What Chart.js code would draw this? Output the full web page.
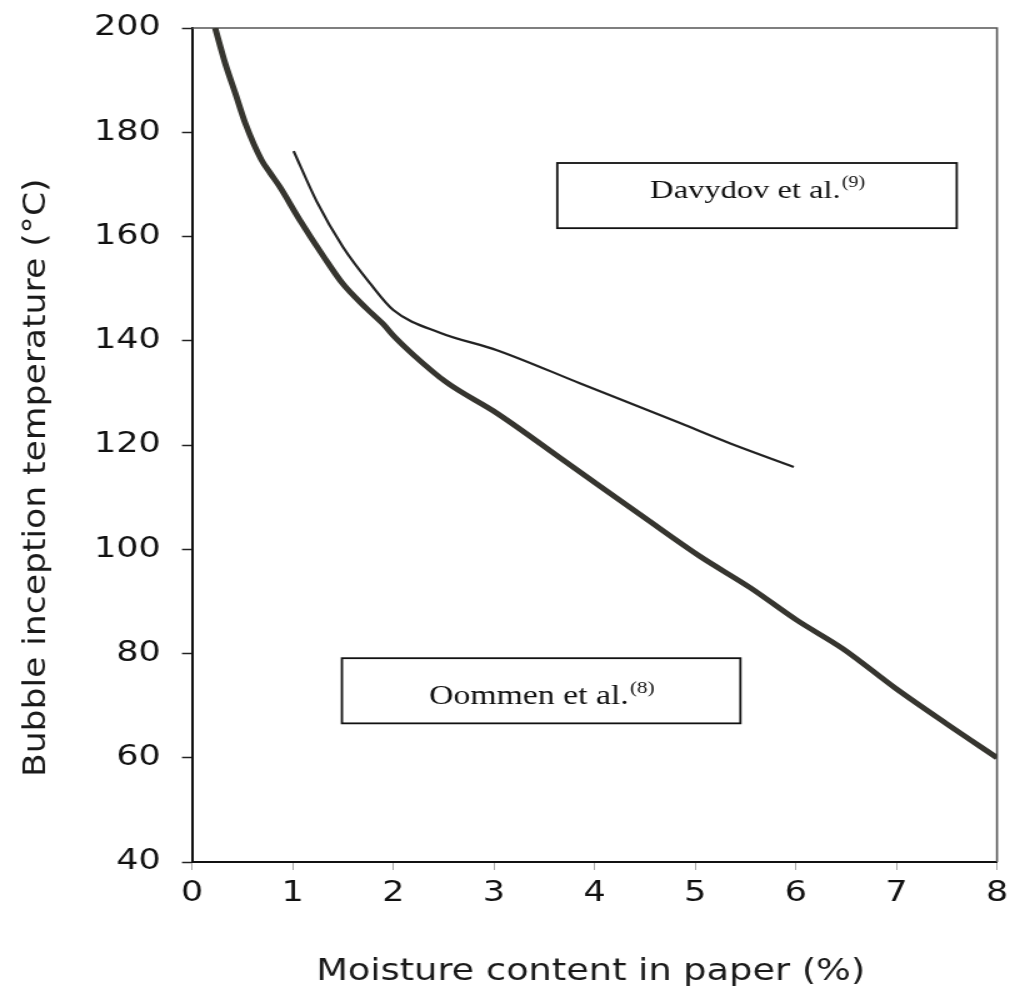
<!DOCTYPE html>
<html>
<head>
<meta charset="utf-8">
<script src="https://cdn.jsdelivr.net/npm/chart.js@4/dist/chart.umd.min.js"></script>
<style>
  html, body { margin: 0; padding: 0; background: #fff; }
  #chart { display: block; }
</style>
</head>
<body>
<!-- the scan is wider than it is tall, so the canvas is drawn narrow and stretched -->
<canvas id="chart" width="808" height="988" style="width:1010px;height:988px"></canvas>
<script>
const oommenX = [0.23, 0.33, 0.43, 0.53, 0.69, 0.78, 0.87, 1.07, 1.31, 1.5, 1.74, 1.9, 2.0, 2.2, 2.53, 3.03, 3.69, 4.06, 4.5, 5.05, 5.55, 6.01, 6.47, 7.0, 7.5, 8.0];
const oommenY = [200, 193.2, 187.5, 181.7, 174.7, 172.1, 169.6, 163.2, 156.1, 150.9, 146.1, 143.2, 141.0, 137.3, 132.0, 126.1, 117.1, 112.0, 106.0, 98.6, 92.6, 86.4, 80.9, 73.2, 66.5, 60];

const davydovX = [1.01, 1.24, 1.5, 1.77, 2.0, 2.47, 3.03, 3.86, 4.85, 5.35, 5.98];
const davydovY = [176.4, 166.7, 158.0, 151.0, 145.9, 141.5, 138.2, 131.8, 124.2, 120.3, 115.8];

const xTicks = [0, 1, 2, 3, 4, 5, 6, 7, 8];
const yTicks = [40, 60, 80, 100, 120, 140, 160, 180, 200];

const xTitle = 'Moisture content in paper (%)';
const yTitle = 'Bubble inception temperature (°C)';

const labelNames = ['Davydov et al.', 'Oommen et al.'];
const labelRefs = ['(9)', '(8)'];

// box corners and text baseline, in data units
const labelBoxes = [
  { x0: 3.63, x1: 7.6, y0: 174.1, y1: 161.6, base: 167.4, size: 26 },
  { x0: 1.49, x1: 5.45, y0: 79.1, y1: 66.6, base: 70.3, size: 27 }
];

const S = 1.25; // horizontal stretch of the canvas

function points(xs, ys) {
  return xs.map((x, i) => ({ x: x, y: ys[i] }));
}

const framePlugin = {
  id: 'frame',
  beforeDatasetsDraw(chart) {
    const { ctx, chartArea: a } = chart;
    ctx.save();
    ctx.strokeStyle = '#555';
    ctx.lineWidth = 1.6;
    ctx.beginPath();
    ctx.moveTo(a.left, a.top);
    ctx.lineTo(a.right, a.top);
    ctx.lineTo(a.right, a.bottom);
    ctx.stroke();
    ctx.restore();
  }
};

const boxPlugin = {
  id: 'boxes',
  afterDatasetsDraw(chart) {
    const { ctx, scales: { x, y } } = chart;
    labelBoxes.forEach((b, i) => {
      const l = x.getPixelForValue(b.x0);
      const r = x.getPixelForValue(b.x1);
      const t = y.getPixelForValue(b.y0);
      const btm = y.getPixelForValue(b.y1);
      ctx.save();
      ctx.fillStyle = '#fff';
      ctx.fillRect(l, t, r - l, btm - t);
      ctx.strokeStyle = '#111';
      ctx.lineWidth = 1.8;
      ctx.strokeRect(l, t, r - l, btm - t);

      const mainFont = b.size + 'px "Liberation Serif"';
      const supFont = Math.round(b.size * 0.62) + 'px "Liberation Serif"';
      ctx.font = mainFont;
      const w1 = ctx.measureText(labelNames[i]).width;
      ctx.font = supFont;
      const w2 = ctx.measureText(labelRefs[i]).width;
      const start = (l + r) / 2 - (w1 + w2) / 2;
      const base = y.getPixelForValue(b.base);
      ctx.fillStyle = '#111';
      ctx.textAlign = 'left';
      ctx.textBaseline = 'alphabetic';
      ctx.font = mainFont;
      ctx.fillText(labelNames[i], start, base);
      ctx.font = supFont;
      ctx.fillText(labelRefs[i], start + w1 + 1, base - b.size * 0.42);
      ctx.restore();
    });
  }
};

const titlePlugin = {
  id: 'titles',
  afterDraw(chart) {
    const { ctx, chartArea: a } = chart;
    ctx.save();
    ctx.fillStyle = '#1a1a1a';
    ctx.textBaseline = 'alphabetic';
    ctx.textAlign = 'left';

    // x title, squeezed to the width seen in the scan
    ctx.font = '30px "DejaVu Sans"';
    const wx = ctx.measureText(xTitle).width;
    const kx = (549 / S) / wx;
    ctx.save();
    ctx.translate((a.left + a.right) / 2 - wx * kx / 2 - 3, 980);
    ctx.scale(kx, 1);
    ctx.fillText(xTitle, 0, 0);
    ctx.restore();

    // y title, rotated, runs from y=777 up to about y=192
    ctx.font = '24px "DejaVu Sans"';
    const wy = ctx.measureText(yTitle.slice(0, -1)).width;
    const ky = 585 / wy;
    ctx.save();
    ctx.translate(45 / S, 777);
    ctx.rotate(-Math.PI / 2);
    ctx.scale(ky, 1);
    ctx.fillText(yTitle, 0, 0);
    ctx.restore();
    ctx.restore();
  }
};

new Chart(document.getElementById('chart'), {
  type: 'line',
  data: {
    datasets: [
      {
        label: 'Oommen et al.',
        data: points(oommenX, oommenY),
        borderColor: '#36352f',
        borderWidth: 5,
        pointRadius: 0,
        cubicInterpolationMode: 'monotone',
        fill: false
      },
      {
        label: 'Davydov et al.',
        data: points(davydovX, davydovY),
        borderColor: '#222',
        borderWidth: 2.2,
        pointRadius: 0,
        cubicInterpolationMode: 'monotone',
        fill: false
      }
    ]
  },
  options: {
    responsive: false,
    animation: false,
    devicePixelRatio: 1,
    layout: { padding: { top: 28, right: 10.4, left: 0, bottom: 0 } },
    plugins: {
      legend: { display: false },
      tooltip: { enabled: false }
    },
    scales: {
      x: {
        type: 'linear',
        min: 0,
        max: 8,
        afterFit: s => { s.height = 126; s.paddingLeft = 0; s.paddingRight = 0; },
        afterBuildTicks: s => { s.ticks = xTicks.map(v => ({ value: v })); },
        border: { color: '#111', width: 2 },
        grid: { drawOnChartArea: false, tickLength: 8, color: '#aaa', tickWidth: 1 },
        ticks: {
          padding: 7,
          color: '#111',
          font: { family: 'DejaVu Sans', size: 28 }
        }
      },
      y: {
        type: 'linear',
        min: 40,
        max: 200,
        afterFit: s => { s.width = 153.6; s.paddingTop = 0; s.paddingBottom = 0; },
        afterBuildTicks: s => { s.ticks = yTicks.map(v => ({ value: v })); },
        border: { color: '#111', width: 2 },
        grid: { drawOnChartArea: false, tickLength: 8, color: '#222', tickWidth: 1.5 },
        ticks: {
          padding: 17,
          color: '#111',
          font: { family: 'DejaVu Sans', size: 28 }
        }
      }
    }
  },
  plugins: [framePlugin, boxPlugin, titlePlugin]
});
</script>
</body>
</html>
